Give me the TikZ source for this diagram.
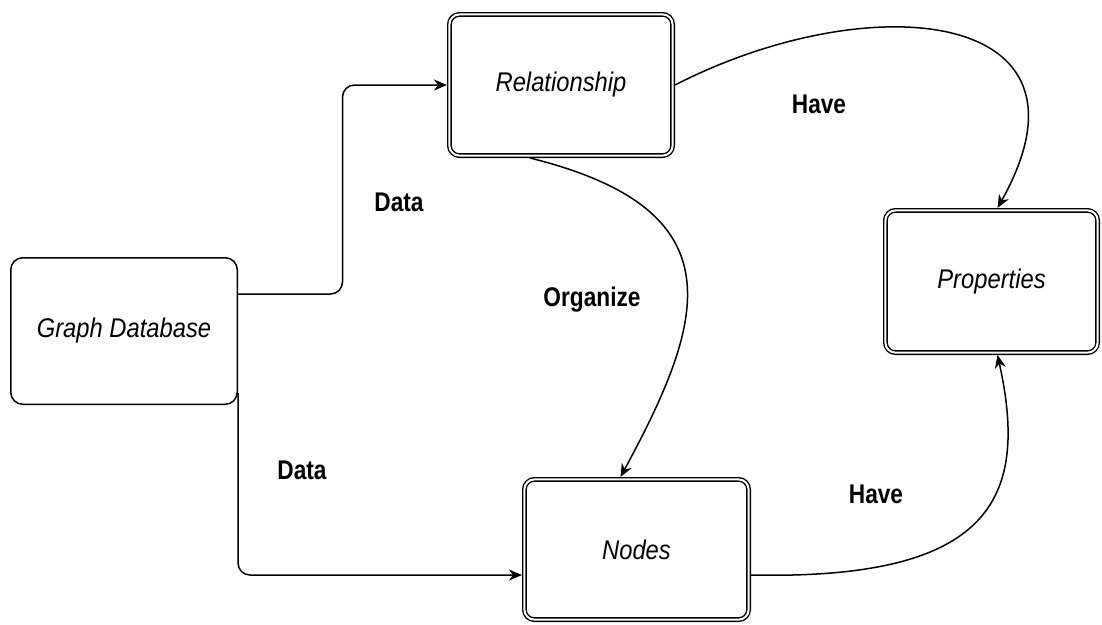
\documentclass[tikz,border=0pt]{standalone}
\usepackage{fontspec}
\setmainfont{Liberation Sans}
\newfontfamily\labelfont[FakeStretch=0.84]{Liberation Sans}
\newfontfamily\boxfont[FakeStretch=0.88]{Liberation Sans}
\usetikzlibrary{arrows.meta,calc}

\begin{document}
\begin{tikzpicture}[x=1pt,y=-1pt,
  every node/.append style={inner sep=0pt},
  boxtext/.style={font=\boxfont\itshape\fontsize{27}{30}\selectfont},
  plainbox/.style={boxtext, draw, line width=1.5pt, rounded corners=12pt},
  doublebox/.style={boxtext, draw, line width=1.4pt, double, double distance=2pt,
    rounded corners=10pt, outer sep=2.4pt},
  conn/.style={draw, line width=1.5pt, -{Stealth[length=13pt,width=11pt,inset=4pt]}},
  lbl/.style={font=\labelfont\bfseries\fontsize{27}{30}\selectfont}
]
\useasboundingbox (0,0) rectangle (1102,624);

% boxes
\node[plainbox, minimum width=226.5pt, minimum height=146.5pt] (gd) at (124,331) {Graph Database};
\node[doublebox, minimum width=223.2pt, minimum height=141.2pt] (rel) at (561,85) {Relationship};
\node[doublebox, minimum width=224.2pt, minimum height=140.2pt] (nodes) at (636.5,549.5) {Nodes};
\node[doublebox, minimum width=212.2pt, minimum height=142.2pt] (prop) at (991.5,281.5) {Properties};

% connector end points on the box borders
\coordinate (gdout) at ($(gd.north east)!0.25!(gd.south east)$);
\coordinate (gddown) at ($(gd.south east)+(0,-12)$);
\coordinate (nodesin) at ($(nodes.north west)!0.676!(nodes.south west)$);
\coordinate (nodesout) at ($(nodes.north east)!0.676!(nodes.south east)$);
\coordinate (relbottom) at ($(rel.south west)!0.364!(rel.south east)$);
\coordinate (nodestop) at ($(nodes.north west)!0.43!(nodes.north east)$);
\coordinate (proptop) at ($(prop.north)+(6,0)$);
\coordinate (propbottom) at ($(prop.south)+(6,0)$);

% connectors
\draw[conn, rounded corners=12pt] (gdout) -| ($(gdout)!0.5!(rel.west)$) |- (rel.west);
\draw[conn, rounded corners=12pt] (gddown) |- (nodesin);
\draw[conn] (relbottom) .. controls +(210,52) and +(85,-157) .. (nodestop);
\draw[conn] (rel.east) .. controls +(195,-100) and +(112,-200) .. (proptop);
\draw[conn] (nodesout) .. controls +(239,5) and +(32,145) .. (propbottom);

% labels
\node[lbl] (ldata1) at (399,202) {Data};
\node[lbl] (lorg) at (592,300) {Organize};
\node[lbl] (lhave1) at (819,104) {Have};
\node[lbl] (ldata2) at (302,470) {Data};
\node[lbl] (lhave2) at (876,494) {Have};
\end{tikzpicture}
\end{document}
